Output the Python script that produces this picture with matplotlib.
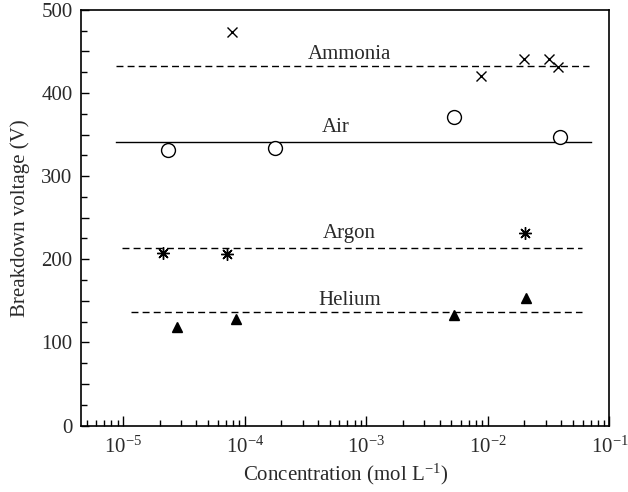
import math
import matplotlib
matplotlib.use("Agg")
import matplotlib.pyplot as plt
from matplotlib.ticker import MultipleLocator, LogLocator, NullFormatter, FuncFormatter

plt.rcParams['font.family'] = ['Liberation Serif', 'DejaVu Serif']
plt.rcParams['mathtext.fontset'] = 'custom'
plt.rcParams['mathtext.rm'] = 'Liberation Serif'
plt.rcParams['mathtext.it'] = 'Liberation Serif:italic'

TEXT = '#2a2a2a'

# data
ammonia_x = [7.9e-5, 8.8e-3, 0.0199, 0.032, 0.038]
ammonia_y = [473, 421, 441, 441, 431]
air_x = [2.34e-5, 1.76e-4, 5.3e-3, 0.039]
air_y = [331, 334, 371, 347]
argon_x = [2.13e-5, 7.2e-5, 0.0202]
argon_y = [207, 206, 232]
helium_x = [2.75e-5, 8.5e-5, 5.3e-3, 0.0204]
helium_y = [119, 128, 133, 154]

# mean (fit) lines: level, start, end
fit_levels = {"Ammonia": 432, "Air": 341, "Argon": 213, "Helium": 136}
fit_start = {"Ammonia": 8.8e-6, "Air": 8.8e-6, "Argon": 9.7e-6, "Helium": 1.17e-5}
fit_end = {"Ammonia": 0.068, "Air": 0.07, "Argon": 0.059, "Helium": 0.059}
fit_style = {"Ammonia": (0, (5, 3)), "Air": "-", "Argon": (0, (5, 3)), "Helium": (0, (5, 3))}

# label positions
label_x = {"Ammonia": 7.3e-4, "Air": 5.6e-4, "Argon": 7.3e-4, "Helium": 7.3e-4}
label_y = {"Ammonia": 446, "Air": 359, "Argon": 231, "Helium": 151}

fig = plt.figure(figsize=(6.28, 4.92), dpi=100)
ax = fig.add_axes([0.129, 0.135, 0.8415, 0.845])

for name in fit_levels:
    ax.plot([fit_start[name], fit_end[name]], [fit_levels[name]] * 2,
            color='black', linewidth=1.0, linestyle=fit_style[name])
    ax.text(label_x[name], label_y[name], name, ha='center', va='center',
            fontsize=15, color=TEXT)

ax.plot(ammonia_x, ammonia_y, linestyle='none', marker='x', color='black',
        markersize=7, markeredgewidth=1.0)
ax.plot(air_x, air_y, linestyle='none', marker='o', markerfacecolor='white',
        markeredgecolor='black', markersize=10, markeredgewidth=1.0)
ax.plot(argon_x, argon_y, linestyle='none', marker=(8, 2, 0), color='black',
        markersize=9, markeredgewidth=1.0)
ax.plot(argon_x, argon_y, linestyle='none', marker='o', color='black', markersize=3)
ax.plot(helium_x, helium_y, linestyle='none', marker='^', color='black', markersize=7)

ax.set_xscale('log')
ax.set_xlim(4.5e-6, 0.1)
ax.set_ylim(0, 500)

ax.xaxis.set_major_locator(LogLocator(base=10, numticks=10))
ax.xaxis.set_minor_locator(LogLocator(base=10, subs=range(2, 10), numticks=20))
ax.xaxis.set_minor_formatter(NullFormatter())
ax.xaxis.set_major_formatter(FuncFormatter(lambda v, p: r'$\mathregular{10^{%d}}$' % round(math.log10(v))))

ax.yaxis.set_major_locator(MultipleLocator(50))
ax.yaxis.set_minor_locator(MultipleLocator(25))
ax.yaxis.set_major_formatter(FuncFormatter(lambda v, p: '%d' % v if v % 100 == 0 else ''))

ax.tick_params(which='both', direction='in', top=False, right=False, labelsize=15,
               color='black', labelcolor=TEXT)
ax.tick_params(which='major', length=7, width=1)
ax.tick_params(which='minor', length=4, width=1)
ax.tick_params(axis='y', which='major', length=6, pad=6)
ax.tick_params(axis='x', which='major', pad=8)
for s in ax.spines.values():
    s.set_linewidth(1.2)

ax.set_xlabel(r'Concentration (mol L$^{-1}$)', fontsize=15, labelpad=3, color=TEXT)
ax.set_ylabel('Breakdown voltage (V)', fontsize=15, labelpad=8, color=TEXT)

fig.savefig('out.png', dpi=100)
